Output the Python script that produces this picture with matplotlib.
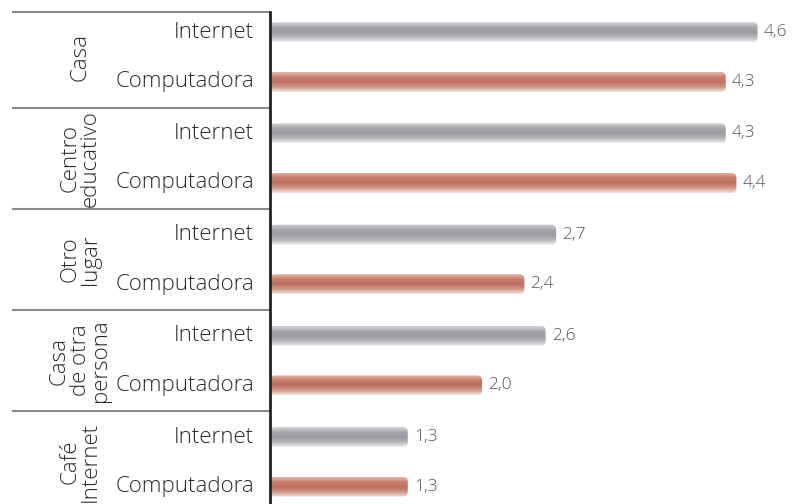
import matplotlib
matplotlib.use("Agg")
import matplotlib.pyplot as plt
import numpy as np
from matplotlib.patches import FancyBboxPatch
from matplotlib.colors import LinearSegmentedColormap
import matplotlib.transforms as mtransforms

groups = ["Casa", "Centro\neducativo", "Otro\nlugar", "Casa\nde otra\npersona", "Café\nInternet"]
series = ["Internet", "Computadora"]
internet = [4.6, 4.3, 2.7, 2.6, 1.3]
computadora = [4.3, 4.4, 2.4, 2.0, 1.3]

plt.rcParams['font.family'] = ['Open Sans', 'DejaVu Sans']

fig = plt.figure(figsize=(7.92, 5.04), dpi=100)
W, H = 792, 504
ax = fig.add_axes([270 / W, 0, 522 / W, (504 - 12) / H])

xpx = 106.0  # px per unit x
ypx = 101.2  # px per unit y
ax.set_xlim(0, 522 / xpx)
top = -45 / ypx
ax.set_ylim(top + 492 / ypx, top)

for s in ['top', 'right', 'bottom']:
    ax.spines[s].set_visible(False)
ax.spines['left'].set_linewidth(2)
ax.spines['left'].set_color('#222222')
ax.set_xticks([])
ax.set_yticks([])

gray_cm = LinearSegmentedColormap.from_list('g', ['#d2d3d6', '#a6a8ac', '#9a9ca1', '#b2b4b8', '#ededee'])
red_cm = LinearSegmentedColormap.from_list('r', ['#e4b8ae', '#c77e6e', '#bd6f5f', '#cf968a', '#f5e0da'])

off = 0.245
bh = 20 / ypx
grad = np.linspace(0, 1, 64).reshape(-1, 1)

def draw_bar(yc, val, cmap):
    patch = FancyBboxPatch((0, yc - bh / 2), val, bh,
                           boxstyle="round,pad=0,rounding_size=%f" % (5 / xpx),
                           mutation_aspect=xpx / ypx, fc='none', ec='none')
    ax.add_patch(patch)
    im = ax.imshow(grad, cmap=cmap, aspect='auto',
                   extent=[0, val, yc + bh / 2, yc - bh / 2], interpolation='bilinear')
    im.set_clip_path(patch)

lblw = 'light'
for i, g in enumerate(groups):
    for j, (vals, cm) in enumerate([(internet, gray_cm), (computadora, red_cm)]):
        yc = i - off if j == 0 else i + off
        draw_bar(yc, vals[i], cm)
        ax.text(vals[i] + 6 / xpx, yc, f"{vals[i]:.1f}".replace('.', ','),
                va='center', ha='left', fontsize=12.5, color='#555555', fontweight=lblw)
        ax.text(-16 / xpx, yc, series[j], va='center', ha='right',
                fontsize=16, color='#2a2a2a', fontweight=lblw, clip_on=False)
    ax.text(-190 / xpx, i, g, rotation=90, va='center', ha='center',
            multialignment='center', fontsize=16, color='#2a2a2a',
            fontweight=lblw, linespacing=0.98, clip_on=False)

trans = mtransforms.blended_transform_factory(ax.transAxes, ax.transData)
seps = [top + 0.0001] + [i + 0.5 for i in range(len(groups) - 1)]
for y in seps:
    ax.plot([-258 / 522, 0], [y, y], transform=trans, color='#8a8a8a',
            lw=1.5, clip_on=False, solid_capstyle='butt')

ax.set_xlim(0, 522 / xpx)
ax.set_ylim(top + 492 / ypx, top)
fig.savefig("out.png", dpi=100)
